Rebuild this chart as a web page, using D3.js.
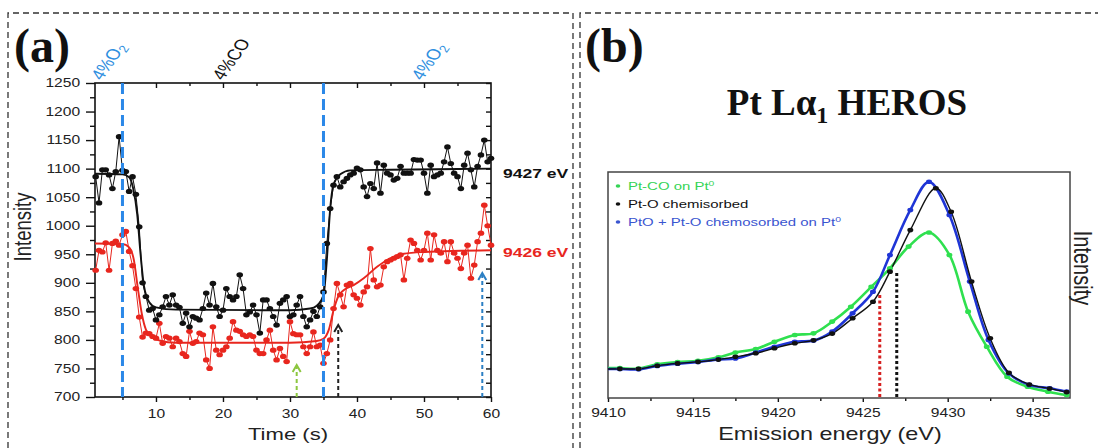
<!DOCTYPE html>
<html>
<head>
<meta charset="utf-8">
<script src="https://cdn.jsdelivr.net/npm/d3@7"></script>
<style>
  body { margin: 0; background: #fff; }
  svg { display: block; }
</style>
</head>
<body>
<svg id="fig" width="1098" height="448"></svg>
<script>
// ---- panel (a): intensity vs time, one reading every 0.5 s starting at 1 s
var tStart = 1, tStep = 0.5;
var i9427 = [1086, 1040, 1098, 1098, 1089, 1065, 1095, 1156, 1097, 1095,
             1060, 1086, 1055, 998, 900, 876, 852, 855, 835, 844,
             858, 876, 861, 879, 861, 857, 829, 847, 823, 841,
             838, 835, 855, 882, 861, 899, 858, 841, 852, 890,
             876, 870, 876, 914, 890, 844, 849, 861, 844, 812,
             870, 870, 855, 841, 826, 864, 870, 876, 841, 844,
             861, 876, 841, 823, 835, 850, 841, 858, 884, 969,
             1030, 1071, 1086, 1068, 1077, 1083, 1089, 1092, 1101, 1098,
             1068, 1051, 1074, 1065, 1110, 1057, 1106, 1092, 1089, 1080,
             1083, 1104, 1092, 1092, 1092, 1116, 1115, 1115, 1092, 1057,
             1106, 1086, 1089, 1092, 1112, 1138, 1109, 1092, 1086, 1065,
             1106, 1127, 1098, 1068, 1104, 1124, 1150, 1112, 1118];
var i9426 = [922, 957, 954, 970, 922, 969, 973, 966, 984, 990,
             955, 930, 890, 840, 805, 812, 811, 806, 803, 829,
             794, 806, 803, 788, 803, 797, 776, 771, 815, 794,
             797, 812, 809, 765, 750, 823, 782, 774, 782, 788,
             803, 832, 817, 815, 809, 806, 809, 806, 782, 776,
             776, 800, 817, 782, 765, 785, 771, 762, 832, 811,
             809, 809, 788, 776, 788, 814, 788, 791, 759, 776,
             800, 855, 899, 879, 858, 896, 899, 879, 873, 861,
             884, 893, 960, 905, 893, 896, 928, 937, 940, 943,
             946, 949, 905, 943, 975, 969, 957, 940, 957, 987,
             940, 984, 957, 952, 972, 937, 972, 952, 943, 925,
             952, 966, 908, 931, 972, 987, 1036, 1000, 966];
// fitted curves, knots [time, intensity]
var fit9427 = [[0.9, 1091], [5, 1090], [6, 1085], [6.6, 1065], [7.2, 1020], [7.7, 950], [8.2, 895],
               [9, 866], [10, 857], [13, 853], [30, 852], [33, 855], [34, 860], [35, 878], [35.5, 940],
               [36, 1030], [36.5, 1072], [37.5, 1090], [39, 1097], [45, 1098], [60, 1100]];
var fit9426 = [[0.9, 969], [5, 968], [6, 962], [6.7, 940], [7.3, 890], [7.9, 845], [8.5, 818],
               [9.3, 806], [10.5, 799], [13, 795], [30, 795], [34, 798], [35, 802], [35.8, 818],
               [36.5, 852], [37.2, 876], [38, 887], [39.5, 896], [41, 908], [43, 928], [45, 943],
               [47, 951], [50, 954], [60, 957]];
var switchTimes = [5, 35];
var gasLabels = [
  {t: 1.9, text: "4%O", sub: "2", color: "#2f8fe0"},
  {t: 20, text: "4%CO", sub: "", color: "#111"},
  {t: 49.7, text: "4%O", sub: "2", color: "#2f8fe0"}
];
var arrowMarks = [
  {t: 31, top: 756, color: "#8cc63f"},
  {t: 37.2, top: 826, color: "#222"},
  {t: 58.7, top: 917, color: "#2b7fc4"}
];
var timeTicks = [10, 20, 30, 40, 50, 60];
var timeMinor = [5, 15, 25, 35, 45, 55];
var intensityTicks = [700, 750, 800, 850, 900, 950, 1000, 1050, 1100, 1150, 1200, 1250];
var intensityMinor = [725, 775, 825, 875, 925, 975, 1025, 1075, 1125, 1175, 1225];

// ---- panel (b): Pt La1 HEROS spectra, [energy eV, intensity a.u.]
var ptCO = [[9410.0, 13.3], [9410.7, 13.2], [9411.8, 13.0], [9412.9, 14.9], [9414.1, 15.9], [9415.3, 16.5],
            [9416.5, 18.0], [9417.5, 20.1], [9418.7, 21.7], [9419.8, 24.9], [9421.0, 27.9], [9422.1, 28.6],
            [9423.2, 33.8], [9424.3, 40.4], [9425.5, 49.2], [9426.6, 57.4], [9427.7, 67.0], [9428.9, 73.2],
            [9430.1, 63.3], [9431.2, 38.2], [9432.3, 22.7], [9433.5, 9.4], [9434.7, 5.0], [9435.9, 2.8],
            [9437.0, 1.3]];
var ptO = [[9410.0, 12.8], [9410.7, 12.9], [9411.8, 12.9], [9412.9, 14.3], [9414.1, 15.3], [9415.3, 16.0],
           [9416.5, 17.0], [9417.5, 18.2], [9418.7, 19.8], [9419.8, 22.0], [9421.0, 24.2], [9422.1, 25.5],
           [9423.2, 28.5], [9424.4, 35.3], [9425.6, 42.6], [9426.6, 55.9], [9427.8, 74.3], [9429.3, 92.8],
           [9430.2, 82.4], [9431.4, 51.5], [9432.5, 26.4], [9433.6, 11.2], [9434.8, 6.0], [9436.0, 4.2],
           [9437.0, 2.6]];
var ptOmix = [[9410.0, 12.8], [9410.7, 12.8], [9411.8, 12.7], [9412.9, 14.2], [9414.1, 15.2], [9415.3, 15.9],
              [9416.5, 17.1], [9417.5, 17.5], [9418.7, 20.1], [9419.8, 22.7], [9421.0, 24.9], [9422.1, 25.4],
              [9423.2, 29.4], [9424.4, 37.5], [9425.6, 47.0], [9426.6, 63.3], [9427.8, 83.2], [9428.9, 95.7],
              [9430.1, 81.0], [9431.3, 51.5], [9432.4, 25.7], [9433.6, 10.9], [9434.8, 5.8], [9436.0, 4.3],
              [9437.0, 2.8]];
var edgeLines = [{e: 9426, top: 46.5, color: "#d62020"}, {e: 9427, top: 55.8, color: "#111"}];
var energyTicks = [9410, 9415, 9420, 9425, 9430, 9435];
var energyMinor = [9412.5, 9417.5, 9422.5, 9427.5, 9432.5];

var SANS = "Liberation Sans, Arial, sans-serif";
var SERIF = "Liberation Serif, Times New Roman, serif";
var SX = 1.3; // the source figure is stretched sideways, text included
var plain = d3.format("d");

var svg = d3.select("#fig");

function place(sel, x, y, rot) {
  sel.attr("transform", "translate(" + x + "," + y + ") scale(" + SX + ",1)" + (rot ? " rotate(" + rot + ")" : ""));
  return sel;
}
function styleAxis(g, size) {
  g.attr("font-family", SANS).attr("font-size", size);
  g.select(".domain").remove();
  g.selectAll("line").attr("stroke", "#111").attr("stroke-width", 1.4);
  g.selectAll("text").attr("fill", "#222").attr("transform", "scale(" + SX + ",1)");
  return g;
}

// dashed panel frames
svg.append("path").attr("d", "M8,448V13H573V448").attr("fill", "none")
  .attr("stroke", "#333").attr("stroke-width", 1.3).attr("stroke-dasharray", "6,4");
svg.append("path").attr("d", "M580,448V13H1098").attr("fill", "none")
  .attr("stroke", "#333").attr("stroke-width", 1.3).attr("stroke-dasharray", "6,4");

// ================= panel (a)
var A = {l: 95, r: 491, t: 83, b: 397};
var xa = d3.scaleLinear().domain([0.9, 60]).range([A.l, A.r]);
var ya = d3.scaleLinear().domain([700, 1250]).range([A.b, A.t]);

styleAxis(svg.append("g").attr("transform", "translate(" + A.l + ",0)")
  .call(d3.axisLeft(ya).tickValues(intensityTicks).tickFormat(plain).tickSize(9).tickPadding(2.5)), 12);
styleAxis(svg.append("g").attr("transform", "translate(" + A.l + ",0)")
  .call(d3.axisLeft(ya).tickValues(intensityMinor).tickSize(5).tickFormat("")), 12);
styleAxis(svg.append("g").attr("transform", "translate(" + A.r + ",0)")
  .call(d3.axisLeft(ya).tickValues(intensityTicks.concat(intensityMinor)).tickSize(5).tickFormat("")), 12);
styleAxis(svg.append("g").attr("transform", "translate(0," + A.t + ")")
  .call(d3.axisBottom(xa).tickValues(timeTicks.slice(0, 5)).tickSize(5).tickFormat("")), 12);
styleAxis(svg.append("g").attr("transform", "translate(0," + A.t + ")")
  .call(d3.axisBottom(xa).tickValues(timeMinor).tickSize(3).tickFormat("")), 12);
styleAxis(svg.append("g").attr("transform", "translate(0," + A.b + ")")
  .call(d3.axisBottom(xa).tickValues(timeTicks).tickFormat(plain).tickSize(5).tickPadding(7.5)), 12);
styleAxis(svg.append("g").attr("transform", "translate(0," + A.b + ")")
  .call(d3.axisBottom(xa).tickValues(timeMinor).tickSize(3).tickFormat("")), 12);

svg.append("rect").attr("x", A.l).attr("y", A.t).attr("width", A.r - A.l).attr("height", A.b - A.t)
  .attr("fill", "none").attr("stroke", "#111").attr("stroke-width", 1.6);

var fitLine = d3.line().x(d => xa(d[0])).y(d => ya(d[1])).curve(d3.curveMonotoneX);
var rawLine = d3.line().x(d => xa(d.t)).y(d => ya(d.v));

function series(vals, color, fit) {
  var pts = vals.map((v, i) => ({t: tStart + i * tStep, v: v}));
  svg.append("path").datum(pts).attr("d", rawLine).attr("fill", "none")
    .attr("stroke", color).attr("stroke-width", 1);
  svg.append("path").datum(fit).attr("d", fitLine).attr("fill", "none")
    .attr("stroke", color).attr("stroke-width", 1.9);
  svg.append("g").selectAll("ellipse").data(pts).join("ellipse")
    .attr("cx", d => xa(d.t)).attr("cy", d => ya(d.v))
    .attr("rx", 3.3).attr("ry", 2.6).attr("fill", color);
}
series(i9426, "#e8261e", fit9426);
series(i9427, "#111", fit9427);

// gas switching lines
svg.selectAll(".switch").data(switchTimes).join("line").attr("class", "switch")
  .attr("x1", d => xa(d)).attr("x2", d => xa(d)).attr("y1", A.t).attr("y2", A.b)
  .attr("stroke", "#2b88e8").attr("stroke-width", 3).attr("stroke-dasharray", "11,5");

// dashed arrows
arrowMarks.forEach(function (d) {
  var x = xa(d.t), top = ya(d.top);
  svg.append("line").attr("x1", x).attr("x2", x).attr("y1", A.b).attr("y2", top + 2)
    .attr("stroke", d.color).attr("stroke-width", 2).attr("stroke-dasharray", "4,3");
  svg.append("path").attr("d", "M" + (x - 4) + "," + (top + 7) + "L" + x + "," + top + "L" + (x + 4) + "," + (top + 7))
    .attr("fill", "none").attr("stroke", d.color).attr("stroke-width", 2);
});

// gas labels above the plot
gasLabels.forEach(function (d) {
  var t = place(svg.append("text"), xa(d.t), 81, -61)
    .attr("font-family", SANS).attr("font-size", 15).attr("fill", d.color);
  t.append("tspan").text(d.text);
  if (d.sub) t.append("tspan").attr("font-size", 10.5).attr("dy", 3).text(d.sub);
});

place(svg.append("text"), 503, 178).attr("font-family", SANS).attr("font-weight", "bold")
  .attr("font-size", 13.5).attr("fill", "#111").text("9427 eV");
place(svg.append("text"), 503, 257).attr("font-family", SANS).attr("font-weight", "bold")
  .attr("font-size", 13.5).attr("fill", "#e8261e").text("9426 eV");

place(svg.append("text"), 288, 440).attr("font-family", SANS).attr("font-size", 17)
  .attr("text-anchor", "middle").attr("fill", "#222").text("Time (s)");
place(svg.append("text"), 31, 227, -90).attr("font-family", SANS).attr("font-size", 18.5)
  .attr("text-anchor", "middle").attr("fill", "#222").text("Intensity");

svg.append("text").attr("x", 14).attr("y", 62).attr("font-family", SERIF).attr("font-weight", "bold")
  .attr("font-size", 48).attr("fill", "#111").text("(a)");

// ================= panel (b)
var B = {l: 608, r: 1070, t: 172, b: 398};
var xb = d3.scaleLinear().domain([9410, 9437.2]).range([B.l, B.r]);
var yb = d3.scaleLinear().domain([0, 100]).range([B.b, B.t]);

styleAxis(svg.append("g").attr("transform", "translate(0," + B.b + ")")
  .call(d3.axisBottom(xb).tickValues(energyTicks).tickFormat(plain).tickSize(4).tickPadding(6.5)), 12);
styleAxis(svg.append("g").attr("transform", "translate(0," + B.b + ")")
  .call(d3.axisBottom(xb).tickValues(energyMinor).tickSize(3).tickFormat("")), 12);

svg.append("rect").attr("x", B.l).attr("y", B.t).attr("width", B.r - B.l).attr("height", B.b - B.t)
  .attr("fill", "none").attr("stroke", "#444").attr("stroke-width", 1.5);

edgeLines.forEach(function (d) {
  svg.append("line").attr("x1", xb(d.e)).attr("x2", xb(d.e)).attr("y1", B.b - 1).attr("y2", yb(d.top))
    .attr("stroke", d.color).attr("stroke-width", 3).attr("stroke-dasharray", "3,2.5");
});

var specLine = d3.line().x(d => xb(d[0])).y(d => yb(d[1])).curve(d3.curveCatmullRom.alpha(0.5));
var spectra = [
  {data: ptCO, color: "#2fe04f", w: 2.6},
  {data: ptOmix, color: "#1f35d6", w: 2.6},
  {data: ptO, color: "#111", w: 1.4}
];
spectra.forEach(function (s) {
  svg.append("path").datum(s.data).attr("d", specLine).attr("fill", "none")
    .attr("stroke", s.color).attr("stroke-width", s.w);
});
spectra.forEach(function (s) {
  svg.append("g").selectAll("ellipse").data(s.data.slice(1)).join("ellipse")
    .attr("cx", d => xb(d[0])).attr("cy", d => yb(d[1]))
    .attr("rx", 3).attr("ry", 2.3).attr("fill", s.color);
});

// legend
var legendItems = [
  {name: "Pt-CO on Pt", sup: "0", color: "#35d455"},
  {name: "Pt-O chemisorbed", sup: "", color: "#111"},
  {name: "PtO + Pt-O chemosorbed on Pt", sup: "0", color: "#3a55d0"}
];
legendItems.forEach(function (d, i) {
  var yy = 190 + i * 18;
  svg.append("ellipse").attr("cx", 618).attr("cy", yy - 4).attr("rx", 2.3).attr("ry", 1.8).attr("fill", d.color);
  var t = place(svg.append("text"), 628, yy).attr("font-family", SANS).attr("font-size", 11.5).attr("fill", d.color);
  t.append("tspan").text(d.name);
  if (d.sup) t.append("tspan").attr("font-size", 8).attr("dy", -4).text(d.sup);
});

place(svg.append("text"), 830, 440).attr("font-family", SANS).attr("font-size", 18)
  .attr("text-anchor", "middle").attr("fill", "#222").text("Emission energy (eV)");
place(svg.append("text"), 1074, 268, 90).attr("font-family", SANS).attr("font-size", 20)
  .attr("text-anchor", "middle").attr("fill", "#222").text("Intensity");

var title = svg.append("text").attr("x", 847).attr("y", 115).attr("text-anchor", "middle")
  .attr("font-family", SERIF).attr("font-weight", "bold").attr("font-size", 37).attr("fill", "#111");
title.append("tspan").text("Pt L\u03b1");
title.append("tspan").attr("font-size", 24).attr("dy", 8).text("1");
title.append("tspan").attr("dy", -8).text(" HEROS");

svg.append("text").attr("x", 585).attr("y", 62).attr("font-family", SERIF).attr("font-weight", "bold")
  .attr("font-size", 48).attr("fill", "#111").text("(b)");
</script>
</body>
</html>
